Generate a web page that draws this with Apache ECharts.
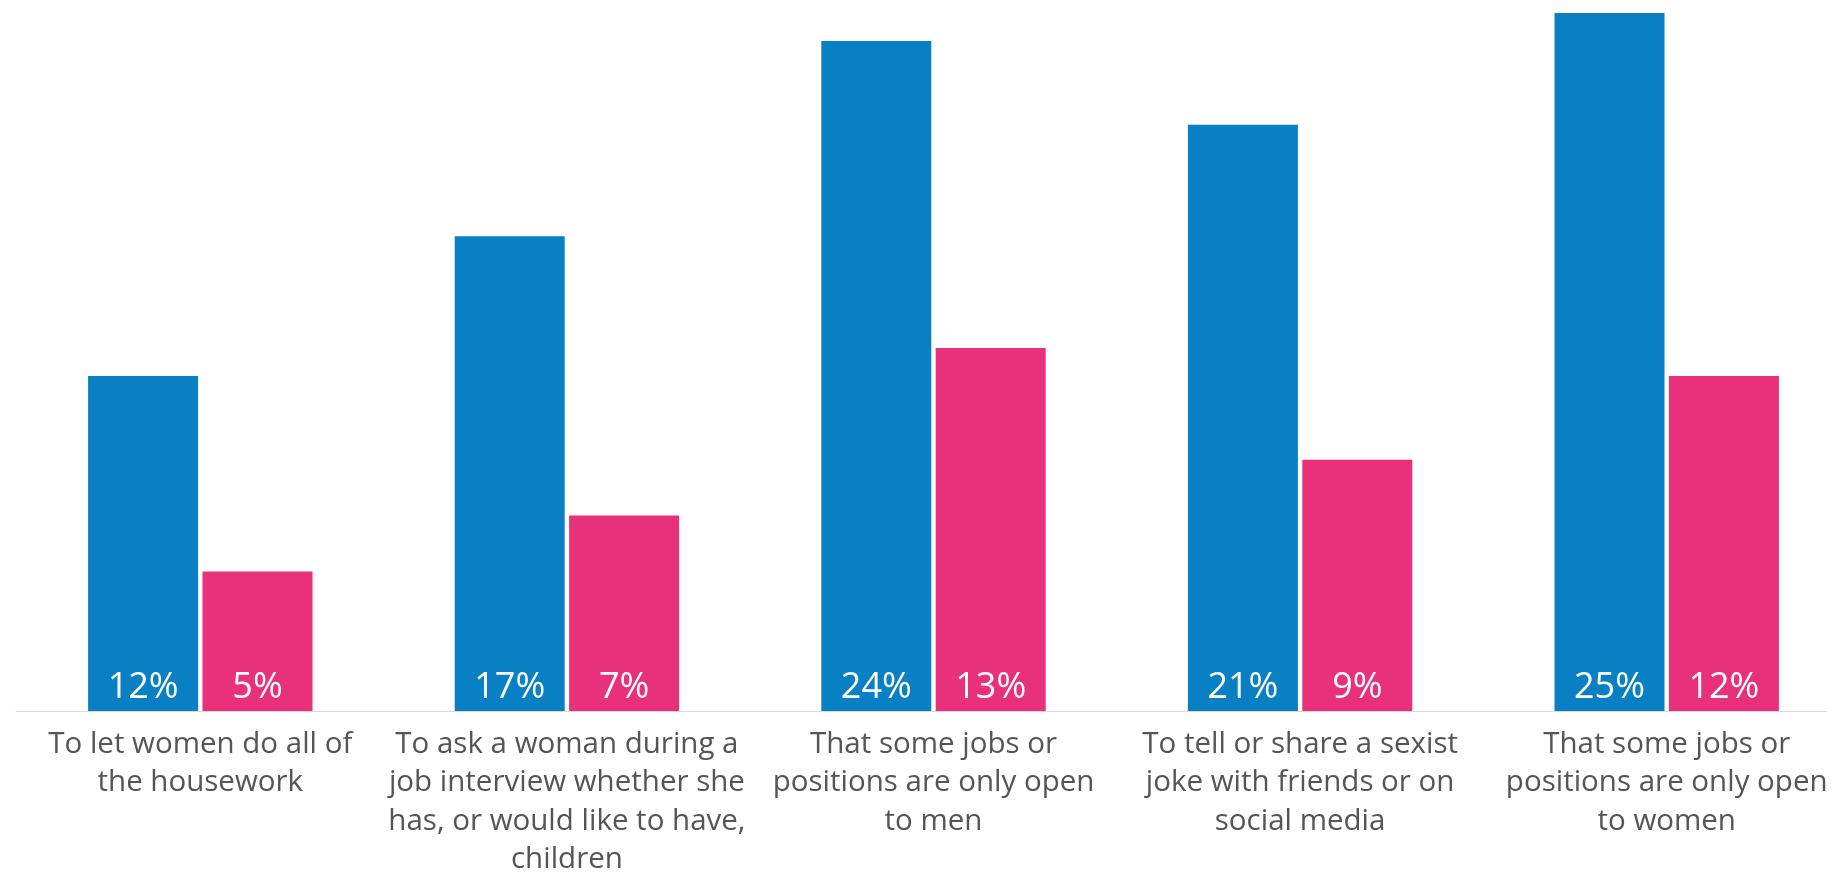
<!DOCTYPE html>
<html>
<head>
<meta charset="utf-8">
<script src="https://cdn.jsdelivr.net/npm/echarts@6/dist/echarts.min.js"></script>
<style>
  html, body { margin: 0; padding: 0; background: #ffffff; overflow: hidden; }
  #chart { width: 1852px; height: 875px; }
</style>
</head>
<body>
<div id="chart"></div>
<script>
const categories = [
  "To let women do all of\nthe housework",
  "To ask a woman during a\njob interview whether she\nhas, or would like to have,\nchildren",
  "That some jobs or\npositions are only open\nto men",
  "To tell or share a sexist\njoke with friends or on\nsocial media",
  "That some jobs or\npositions are only open\nto women"
];
const blueValues = [12, 17, 24, 21, 25];
const pinkValues = [5, 7, 13, 9, 12];

const chart = echarts.init(document.getElementById('chart'), null, { renderer: 'canvas' });

const labelStyle = {
  show: true,
  position: 'insideBottom',
  distance: 5,
  color: '#ffffff',
  fontFamily: 'Open Sans',
  fontSize: 36,
  fontWeight: 'normal',
  formatter: p => p.value + '%'
};

chart.setOption({
  backgroundColor: '#ffffff',
  animation: false,
  grid: [
    { left: 17, width: 1833, top: 13, bottom: 164, containLabel: false, outerBoundsMode: 'none' },
    { left: 16, width: 1811, top: 13, bottom: 164, containLabel: false, outerBoundsMode: 'none' }
  ],
  xAxis: [
    {
      type: 'category',
      gridIndex: 0,
      data: categories,
      axisLine: { show: false },
      axisTick: { show: false },
      axisLabel: {
        interval: 0,
        margin: 14,
        color: '#555555',
        fontFamily: 'Open Sans',
        fontSize: 29.5,
        lineHeight: 38.5,
        align: 'center'
      }
    },
    {
      type: 'value',
      gridIndex: 1,
      min: 0,
      max: 1,
      position: 'bottom',
      axisLine: { show: true, onZero: false, lineStyle: { color: '#d9d9d9', width: 1 } },
      axisTick: { show: false },
      axisLabel: { show: false },
      splitLine: { show: false }
    }
  ],
  yAxis: [
    {
      type: 'value',
      gridIndex: 0,
      min: 0,
      max: 25,
      show: false,
      splitLine: { show: false }
    },
    {
      type: 'value',
      gridIndex: 1,
      min: 0,
      max: 1,
      show: false
    }
  ],
  series: [
    {
      name: 'Blue',
      type: 'bar',
      xAxisIndex: 0,
      yAxisIndex: 0,
      data: blueValues,
      barWidth: 110,
      barGap: '4%',
      itemStyle: { color: '#0a80c4' },
      label: labelStyle
    },
    {
      name: 'Pink',
      type: 'bar',
      xAxisIndex: 0,
      yAxisIndex: 0,
      data: pinkValues,
      barWidth: 110,
      barGap: '4%',
      itemStyle: { color: '#e8317a' },
      label: labelStyle
    }
  ]
});
</script>
</body>
</html>
